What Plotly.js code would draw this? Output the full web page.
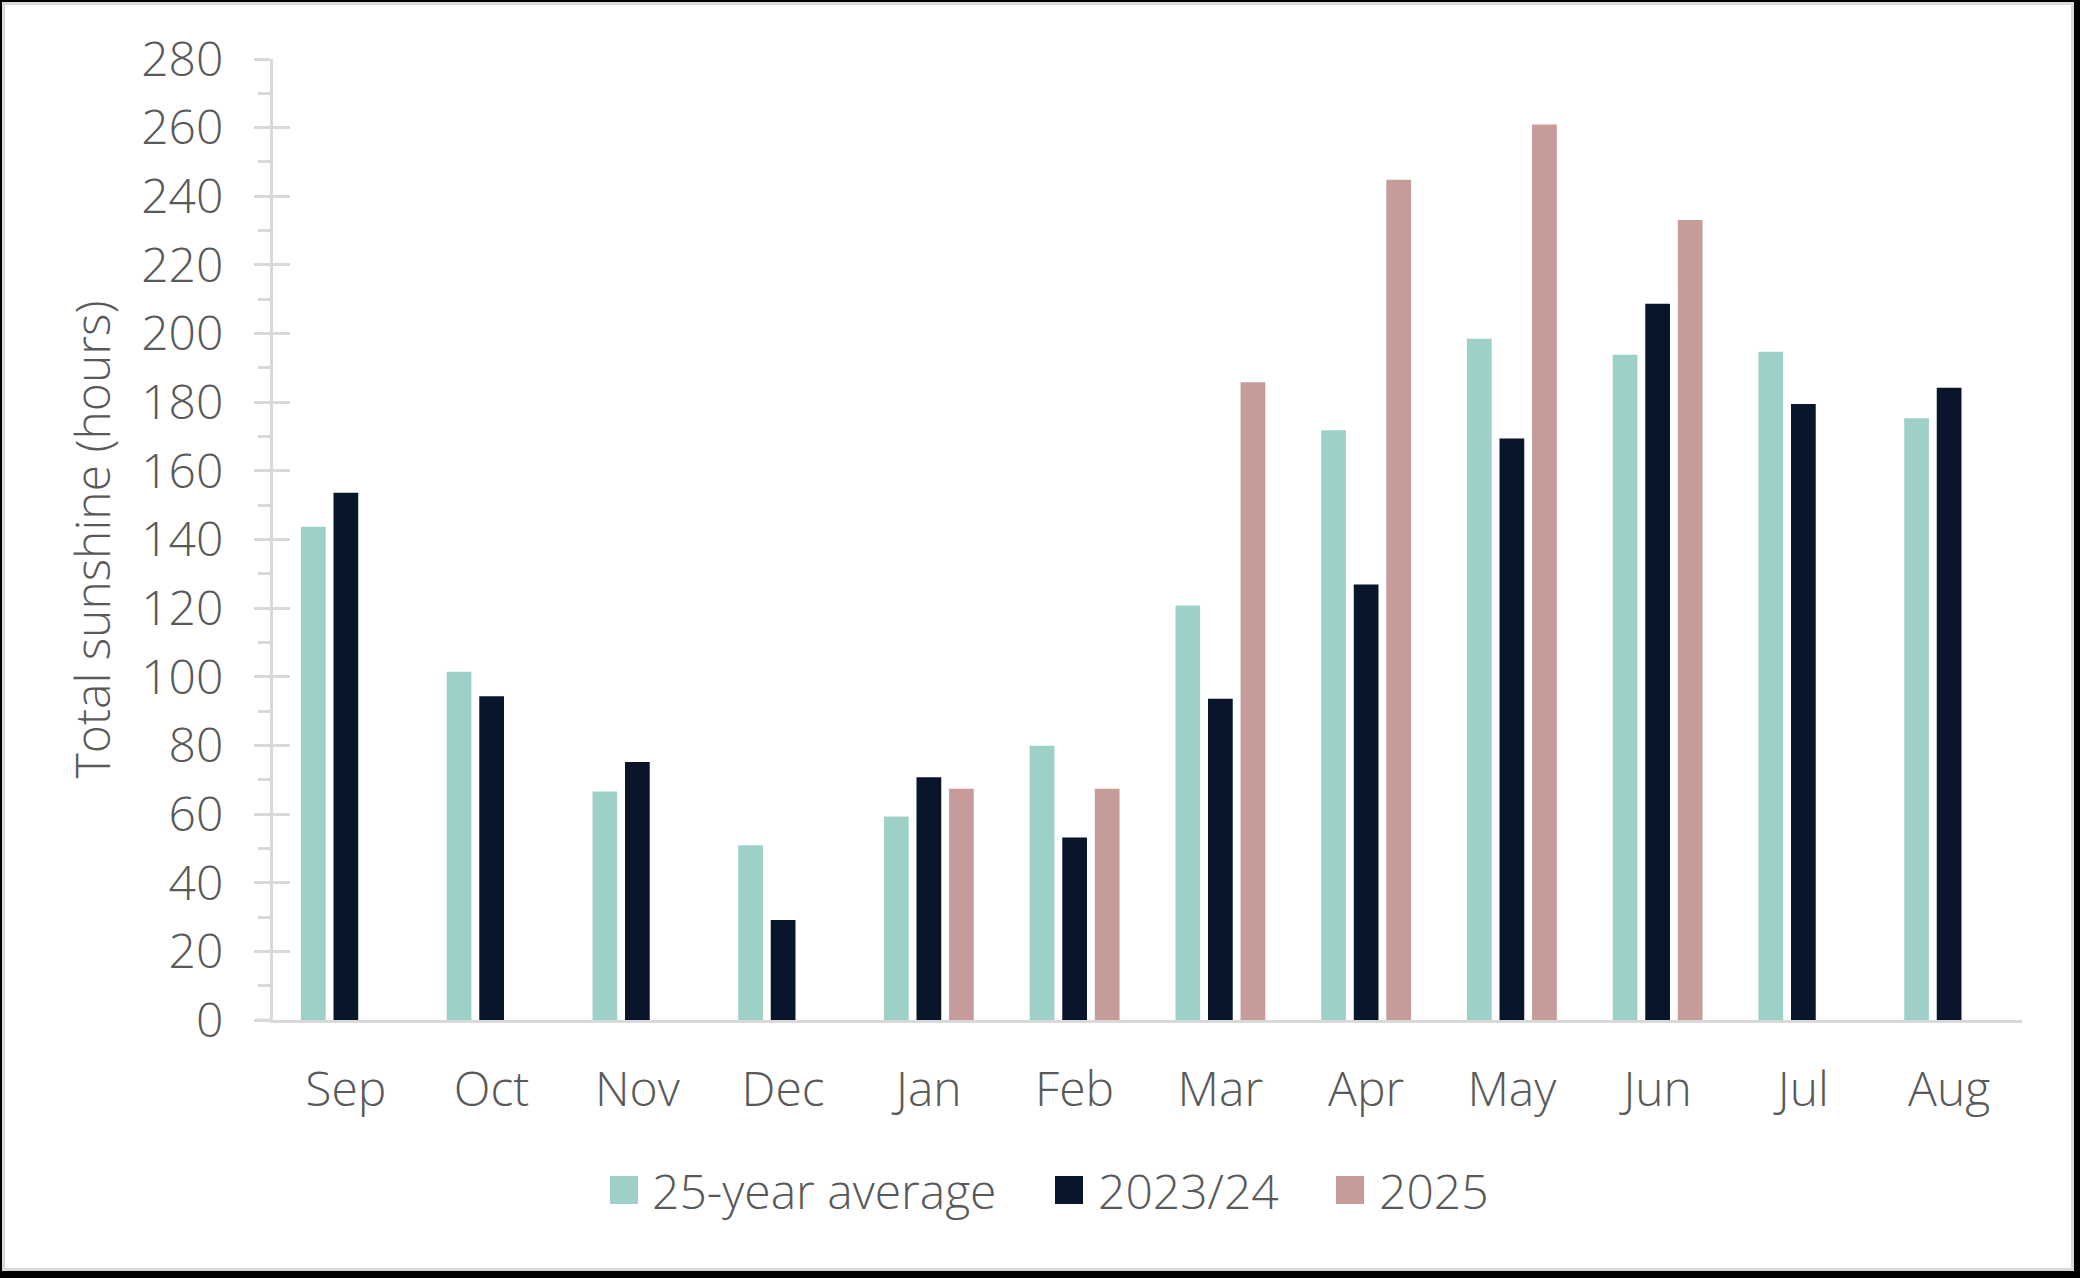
<!DOCTYPE html>
<html>
<head>
<meta charset="utf-8">
<script src="https://cdn.plot.ly/plotly-3.0.1.min.js"></script>
<style>
  html, body { margin: 0; padding: 0; background: #fff; }
  #wrap { position: relative; width: 2080px; height: 1278px; }
  #chart { position: absolute; left: 0; top: 0; width: 2080px; height: 1278px; }
  #frame { position: absolute; left: 0; top: 0; width: 2080px; height: 1278px; box-sizing: border-box;
           border-style: solid; border-color: #000; border-width: 2px 6px 7px 2px;
           box-shadow: inset 0 0 0 3px #d9d9d9; pointer-events: none; }
</style>
</head>
<body>
<div id="wrap">
  <div id="chart"></div>
  <div id="frame"></div>
</div>
<script>
const months = ['Sep','Oct','Nov','Dec','Jan','Feb','Mar','Apr','May','Jun','Jul','Aug'];
const avg25 = [143.7,101.5,66.6,50.9,59.3,79.9,120.8,171.8,198.5,193.8,194.7,175.3];
const y2023_24 = [153.6,94.3,75.2,29.1,70.7,53.2,93.6,126.9,169.4,208.7,179.5,184.2];
const y2025 = [null,null,null,null,67.4,67.4,185.8,244.8,260.9,233.1,null,null];
const seriesNames = ['25-year average','2023/24','2025'];
const colors = ['#9DD1C7','#08152B','#C89B9B'];
const yTickVals = [0,20,40,60,80,100,120,140,160,180,200,220,240,260,280];

const textColor = '#595959';
const axisColor = '#d9d9d9';
const fontFam = '"Open Sans", "Noto Sans", sans-serif';
const fw = 300;
const fs = 48;

const W = 2080, H = 1278;
const L = 273, R = 58, T = 59, B = 258;
const pw = W - L - R, ph = H - T - B;
const px2x = p => (p - L) / pw;
const py2y = p => (H - B - p) / ph;

const data = [avg25, y2023_24, y2025].map((vals, i) => ({
  type: 'bar', x: months, y: vals, name: seriesNames[i],
  marker: { color: colors[i], line: { width: 0 } },
  hoverinfo: 'x+y+name', showlegend: false
}));
data.push({ type: 'scatter', x: [], y: [], yaxis: 'y2', showlegend: false, hoverinfo: 'skip' });

// custom legend
const legendItems = [
  { sq: 610, tx: 650 },
  { sq: 1055, tx: 1096 },
  { sq: 1336, tx: 1377 }
];
const legY = 1190, sqS = 28;
const shapes = [
  { type: 'line', xref: 'paper', yref: 'y', x0: px2x(257), x1: 0, y0: 0, y1: 0,
    line: { color: axisColor, width: 3 } }
];
const annotations = [];
legendItems.forEach((it, i) => {
  shapes.push({ type: 'rect', xref: 'paper', yref: 'paper',
    x0: px2x(it.sq), x1: px2x(it.sq + sqS), y0: py2y(legY + sqS/2), y1: py2y(legY - sqS/2),
    fillcolor: colors[i], line: { width: 0 } });
  annotations.push({ xref: 'paper', yref: 'paper', x: px2x(it.tx), y: py2y(legY),
    xanchor: 'left', yanchor: 'middle', showarrow: false, text: seriesNames[i],
    font: { family: fontFam, size: fs, color: textColor, weight: fw } });
});

const layout = {
  width: W, height: H,
  margin: { l: L, r: R, t: T, b: B },
  paper_bgcolor: '#ffffff', plot_bgcolor: '#ffffff',
  font: { family: fontFam, color: textColor, size: fs, weight: fw },
  barmode: 'group', bargap: 0.33, bargroupgap: 0.24,
  showlegend: false,
  xaxis: {
    type: 'category', showgrid: false, zeroline: false,
    showline: true, linecolor: axisColor, linewidth: 3,
    ticks: '', ticklabelstandoff: 25,
    tickfont: { family: fontFam, size: fs, color: textColor, weight: fw },
    fixedrange: true
  },
  yaxis: {
    range: [0, 280], tickvals: yTickVals, showgrid: false, zeroline: false,
    showline: true, linecolor: axisColor, linewidth: 3,
    ticks: 'outside', ticklen: 16, tickwidth: 3, tickcolor: axisColor,
    minor: { dtick: 10, ticks: 'outside', ticklen: 12, tickwidth: 3, tickcolor: axisColor, showgrid: false },
    ticklabelstandoff: 21,
    tickfont: { family: fontFam, size: fs, color: textColor, weight: fw },
    title: { text: 'Total sunshine (hours)', standoff: 16,
             font: { family: fontFam, size: fs, color: textColor, weight: fw } },
    automargin: false, fixedrange: true
  },
  yaxis2: {
    overlaying: 'y', side: 'left', anchor: 'x',
    range: [0, 280], tickvals: yTickVals, showgrid: false, zeroline: false,
    showline: false, showticklabels: false,
    ticks: 'inside', ticklen: 17, tickwidth: 3, tickcolor: axisColor,
    fixedrange: true
  },
  shapes: shapes,
  annotations: annotations
};

Plotly.newPlot('chart', data, layout, { displayModeBar: false, staticPlot: true });
</script>
</body>
</html>
